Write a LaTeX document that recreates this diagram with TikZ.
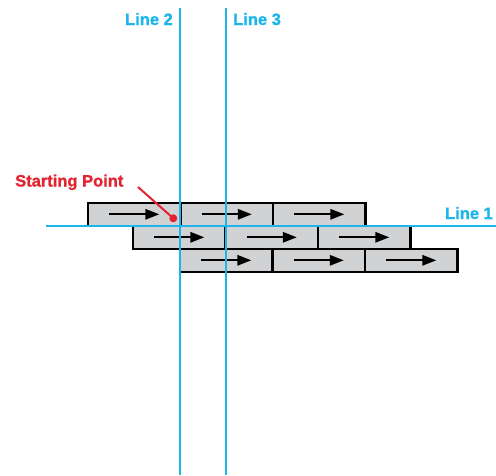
\documentclass[tikz,border=0pt]{standalone}
\usepackage{fontspec}
\setmainfont{Liberation Sans}
\newfontfamily\heavyfont{Liberation Sans Bold}[FakeBold=1.2]
\usetikzlibrary{arrows.meta}
\definecolor{cyanline}{HTML}{1CB5EA}
\definecolor{redmark}{HTML}{E42330}
\definecolor{brickgray}{HTML}{D1D2D4}
\tikzset{
  brick/.style={draw=black, line width=2.6pt, fill=brickgray, minimum width=92.5pt, minimum height=23pt, inner sep=0pt, outer sep=0pt},
  dirarrow/.style={line width=1.7pt, -{Triangle[length=14pt,width=10.5pt]}},
  guide/.style={draw=cyanline, line width=1.3pt},
  guidelabel/.style={text=cyanline, font=\heavyfont\fontsize{16.5}{18}\selectfont, inner sep=0pt},
}
\begin{document}
\begin{tikzpicture}[x=1pt,y=-1pt]
\useasboundingbox (0,0) rectangle (496,475);
% bricks
\foreach \r/\x/\y in {1/88/214.3, 2/133/237.3, 3/180/260.3}{
  \foreach \c in {0,1,2}{
    \node[brick, anchor=west] (b\r\c) at ({\x+\c*92.5},\y) {};
    \draw[dirarrow] ([xshift=-25pt]b\r\c.center) -- ([xshift=25pt]b\r\c.center);
  }
}
% guide lines
\coordinate (l2top) at (180,8);
\coordinate (l2bot) at (180,475);
\coordinate (l3top) at (226,8);
\coordinate (l3bot) at (226,475);
\coordinate (l1left) at (46,226);
\coordinate (l1right) at (496,226);
\draw[guide] (l2top) -- (l2bot);
\draw[guide] (l3top) -- (l3bot);
\draw[guide] (l1left) -- (l1right);
\node[guidelabel, anchor=base east] (lab2) at (173,25) {Line 2};
\node[guidelabel, anchor=base west] (lab3) at (233,25) {Line 3};
\node[guidelabel, anchor=base east] (lab1) at (493,219) {Line 1};
% starting point
\node[circle, fill=redmark, minimum size=8pt, inner sep=0pt] (sp) at (173.3,218.3) {};
\node[text=redmark, font=\heavyfont\fontsize{16.5}{18}\selectfont, inner sep=0pt, anchor=base west] (splab) at (15,186.5) {Starting Point};
\coordinate (spfrom) at (138,187);
\draw[redmark, line width=2pt] (spfrom) -- (sp.center);
\end{tikzpicture}
\end{document}
